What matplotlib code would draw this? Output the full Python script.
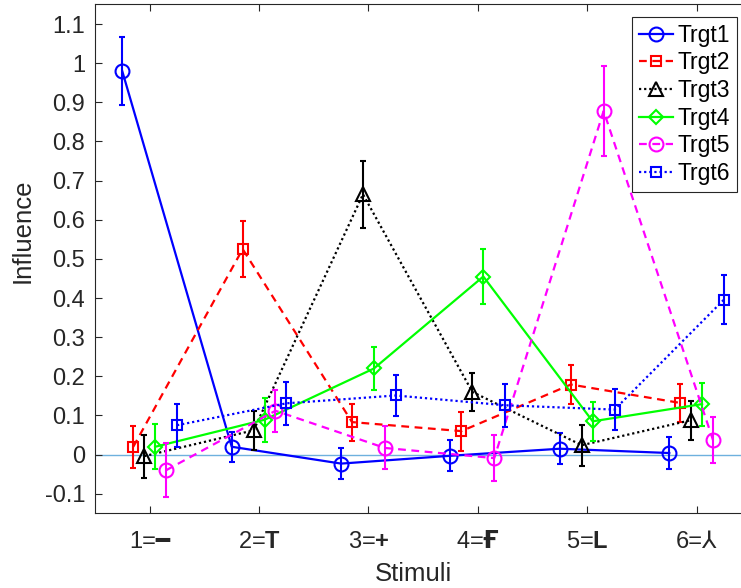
import matplotlib
matplotlib.use("Agg")
import matplotlib.pyplot as plt
import numpy as np

plt.rcParams['font.family'] = ['Liberation Sans', 'DejaVu Sans']
plt.rcParams['mathtext.fontset'] = 'custom'
plt.rcParams['mathtext.rm'] = 'Liberation Sans'
plt.rcParams['mathtext.bf'] = 'Liberation Sans:bold'
plt.rcParams['mathtext.sf'] = 'DejaVu Sans:bold'

# Stimuli and target series (mean influence and error half-widths)
stimuli = ["1=\u2501", r"2=$\mathbf{T}$", r"3=$\mathbf{+}$",
           "4=$\\mathsf{\u0492}$", r"5=$\mathbf{L}$", "6=\u2144"]
targets = ["Trgt1", "Trgt2", "Trgt3", "Trgt4", "Trgt5", "Trgt6"]

trgt1 = [0.979, 0.020, -0.023, -0.003, 0.015, 0.004]
trgt1_err = [0.087, 0.038, 0.040, 0.040, 0.039, 0.040]
trgt2 = [0.020, 0.525, 0.083, 0.060, 0.179, 0.132]
trgt2_err = [0.053, 0.072, 0.047, 0.050, 0.050, 0.048]
trgt3 = [-0.004, 0.062, 0.665, 0.160, 0.024, 0.088]
trgt3_err = [0.055, 0.050, 0.086, 0.049, 0.052, 0.050]
trgt4 = [0.020, 0.089, 0.220, 0.455, 0.085, 0.129]
trgt4_err = [0.058, 0.056, 0.056, 0.070, 0.050, 0.055]
trgt5 = [-0.040, 0.112, 0.017, -0.009, 0.878, 0.037]
trgt5_err = [0.069, 0.053, 0.055, 0.059, 0.115, 0.058]
trgt6 = [0.075, 0.131, 0.151, 0.126, 0.115, 0.396]
trgt6_err = [0.055, 0.055, 0.053, 0.055, 0.052, 0.063]

yticks = [-0.1, 0, 0.1, 0.2, 0.3, 0.4, 0.5, 0.6, 0.7, 0.8, 0.9, 1, 1.1]
ytick_labels = ["-0.1", "0", "0.1", "0.2", "0.3", "0.4", "0.5", "0.6",
                "0.7", "0.8", "0.9", "1", "1.1"]

series = [trgt1, trgt2, trgt3, trgt4, trgt5, trgt6]
errors = [trgt1_err, trgt2_err, trgt3_err, trgt4_err, trgt5_err, trgt6_err]
styles = [
    dict(color=(0, 0, 1), ls='-', marker='o', ms=10),
    dict(color=(1, 0, 0), ls=(0, (3.5, 2.5)), marker='s', ms=7.5),
    dict(color=(0, 0, 0), ls=(0, (1, 1.3)), marker='^', ms=10),
    dict(color=(0, 1, 0), ls='-', marker='D', ms=7.2),
    dict(color=(1, 0, 1), ls=(0, (3.5, 2.5)), marker='o', ms=10),
    dict(color=(0, 0, 1), ls=(0, (1, 1.3)), marker='s', ms=7.5),
]

W, H = 741, 588
fig = plt.figure(figsize=(W / 100, H / 100), dpi=100)
ax = fig.add_axes([95 / W, (H - 513.3) / H, 656.3 / W, 508.8 / H])

ax.axhline(0, color='#6EB1DE', lw=1.0, zorder=1)

x = np.arange(1, len(stimuli) + 1)
offsets = np.linspace(-0.25, 0.25, len(targets))
handles = []
for k, (vals, errs, st) in enumerate(zip(series, errors, styles)):
    xs = x + offsets[k]
    ax.errorbar(xs, vals, yerr=errs, fmt='none', ecolor=st['color'],
                elinewidth=1.5, capsize=2.5, capthick=1.5, zorder=2 + k)
    h, = ax.plot(xs, vals, color=st['color'], ls=st['ls'], lw=1.6,
                 marker=st['marker'], ms=st['ms'], mfc='none',
                 mec=st['color'], mew=1.5, label=targets[k], zorder=2 + k)
    handles.append(h)

ax.set_xlim(0.5, 6.5)
ax.set_ylim(-0.15, 1.15)
ax.set_xticks(x)
ax.set_xticklabels(stimuli)
ax.set_yticks(yticks)
ax.set_yticklabels(ytick_labels)

axis_gray = '#262626'
for sp in ax.spines.values():
    sp.set_color(axis_gray)
    sp.set_linewidth(0.8)
ax.tick_params(direction='in', length=5, width=0.8, color=axis_gray,
               labelcolor=axis_gray, labelsize=17, top=True, right=True)
ax.tick_params(axis='y', pad=7)
ax.tick_params(axis='x', pad=13)

ax.set_xlabel("Stimuli", fontsize=18.5, color=axis_gray)
ax.set_ylabel("Influence", fontsize=18.5, color=axis_gray)
ax.xaxis.set_label_coords((413 - 95) / 656.3, (513.3 - 562) / 508.8)
ax.yaxis.set_label_coords((35 - 95) / 656.3, (513.3 - 231) / 508.8)

leg = ax.legend(handles=handles, loc='upper right',
                bbox_to_anchor=(736.5 / W, 1 - 17 / H),
                bbox_transform=fig.transFigure, borderaxespad=0,
                fontsize=16.5, handlelength=1.45, handletextpad=0.2,
                labelspacing=0.2, borderpad=0.3, fancybox=False,
                framealpha=1, edgecolor=axis_gray)
leg.get_frame().set_linewidth(0.8)

fig.savefig("out.png", dpi=100)
